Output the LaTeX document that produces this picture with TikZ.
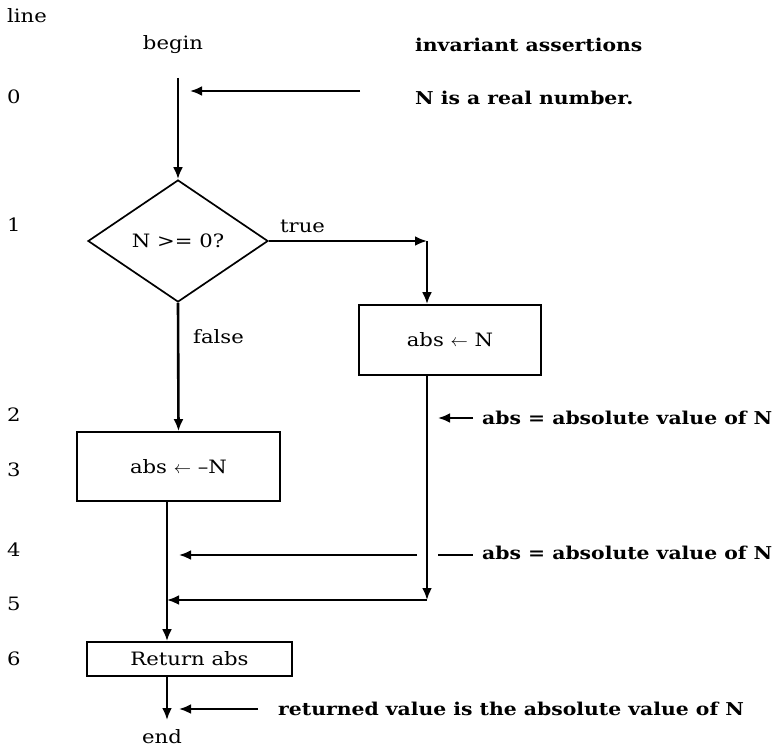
\documentclass[tikz,border=0pt]{standalone}
\usepackage{fontspec}
\setmainfont{DejaVu Serif}[FakeStretch=1.15]
\usetikzlibrary{arrows.meta,shapes.geometric,positioning}

\begin{document}
\begin{tikzpicture}[x=1pt,y=-1pt,
	every node/.style={inner sep=0pt,font=\fontsize{18.4}{20}\selectfont},
	box/.style={draw,line width=1.7pt},
	decision/.style={draw,diamond,line width=1.7pt,minimum width=180pt,minimum height=122pt},
	flow/.style={line width=2.6pt,-{Latex[length=12pt,width=10pt]}},
	link/.style={line width=1.4pt},
	note/.style={anchor=west,font=\bfseries\fontsize{17.7}{20}\selectfont}]

	% Rahmen
	\useasboundingbox (0,0) rectangle (775,749);

	% Kopfzeile
	\node[anchor=base west] (hdr) at (7,23) {line};
	\node[anchor=base] (begin) at (173,50) {begin};
	\node[note,anchor=base west] (invhdr) at (415,52) {invariant assertions};

	% Zeilennummern
	\foreach \n/\y in {0/97,1/225,2/415,3/470,4/550,5/604,6/659}
		\node[anchor=west] (ln\n) at (7,\y) {\n};

	% Bloecke
	\node[decision] (test) at (178,241) {N >= 0?};
	\node[box,minimum width=182pt,minimum height=70pt] (pos) at (450,340) {abs $\leftarrow$ N};
	\node[box,minimum width=203pt,minimum height=69pt] (neg) at (178.5,466.5) {abs $\leftarrow$ --N};
	\node[box,minimum width=205pt,minimum height=34pt] (ret) at (189.5,659) {Return abs};
	\node[anchor=base] (end) at (162,743) {end};

	% Hilfspunkte
	\coordinate (top) at (178,78);
	\coordinate (tcorner) at (427,241);
	\coordinate (r2) at (427,420);
	\coordinate (r5) at (427,600);
	\coordinate (lx) at (167,600);
	\coordinate (endtip) at (167,720);

	% Ablauf
	\draw[flow] (top) -- (test.north);
	\draw[flow] (test.east) -- (tcorner);
	\draw[flow] (tcorner) -- (tcorner |- pos.north);
	\node[anchor=base west] (true) at (280,232) {true};
	\draw[flow] (test.south) -- (neg.north);
	\node[anchor=base west] (false) at (193,343) {false};
	\draw[link] (tcorner |- pos.south) -- (r2);
	\draw[flow] (r2) -- (r5);
	\draw[flow] (r5) -- (lx);
	\draw[link,line width=2.6pt] (neg.south -| lx) -- (lx);
	\draw[flow] (lx) -- (ret.north -| lx);
	\draw[flow] (ret.south -| lx) -- (endtip);

	% Zusicherungen
	\coordinate (a0) at (360,91);
	\coordinate (a0tip) at (190,91);
	\draw[flow] (a0) -- (a0tip);
	\node[note,anchor=base west] (inv0) at (415,105) {N is a real number.};

	\coordinate (a2) at (473,418);
	\coordinate (a2tip) at (438,418);
	\draw[flow] (a2) -- (a2tip);
	\node[note] (inv2) at (482,418) {abs = absolute value of N};

	\coordinate (a4) at (417,555);
	\coordinate (a4tip) at (179,555);
	\draw[flow] (a4) -- (a4tip);
	\coordinate (b4) at (438,555);
	\coordinate (c4) at (473,555);
	\draw[link] (b4) -- (c4);
	\node[note] (inv4) at (482,553) {abs = absolute value of N};

	\coordinate (a6) at (258,709);
	\coordinate (a6tip) at (179,709);
	\draw[flow] (a6) -- (a6tip);
	\node[note] (inv6) at (278,709) {returned value is the absolute value of N};

\end{tikzpicture}
\end{document}
